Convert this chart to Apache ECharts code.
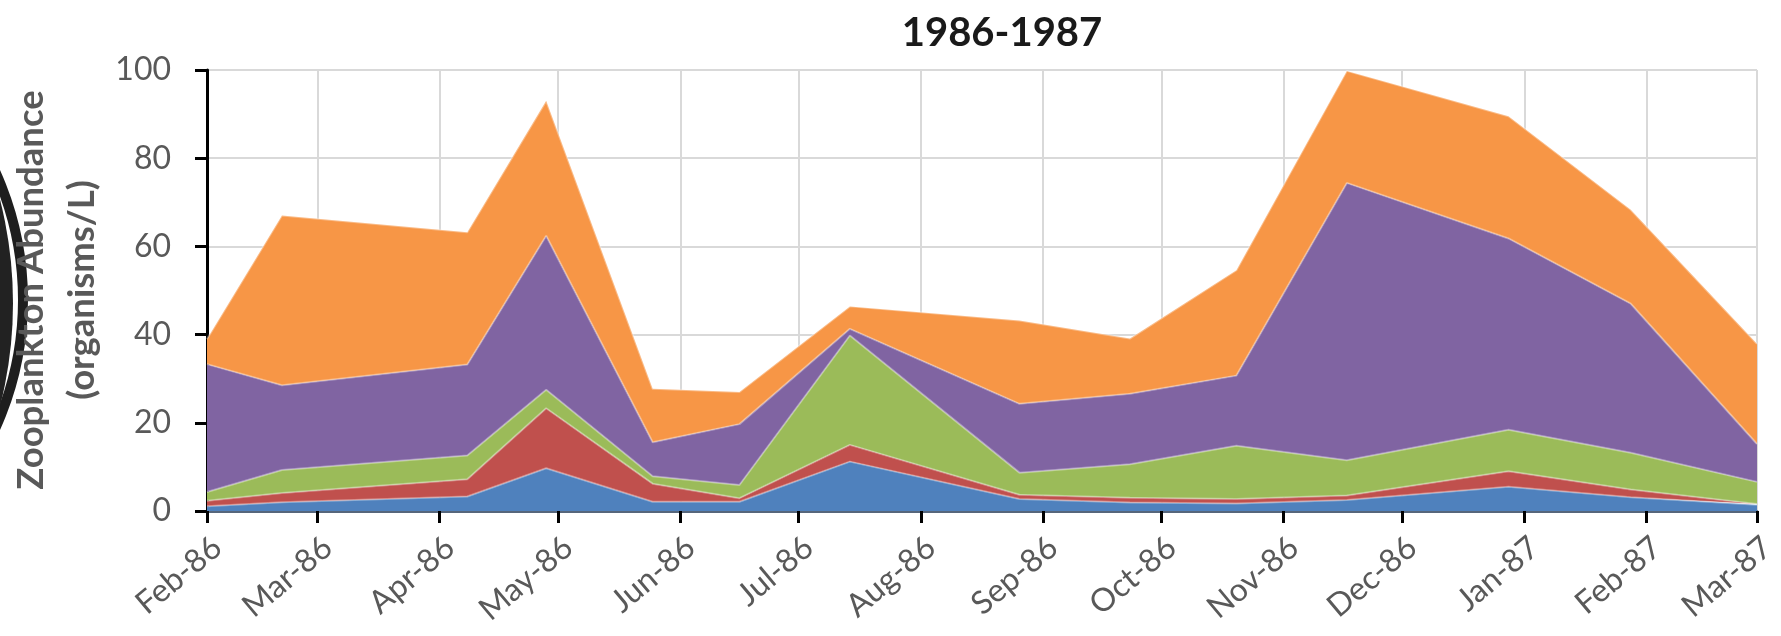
<!DOCTYPE html>
<html>
<head>
<meta charset="utf-8">
<title>Zooplankton Abundance 1986-1987</title>
<script src="https://cdn.jsdelivr.net/npm/echarts@6.0.0/dist/echarts.min.js"></script>
<style>
  html, body { margin: 0; padding: 0; background: #ffffff; }
  #chart { width: 1781px; height: 636px; }
</style>
</head>
<body>
<div id="chart"></div>
<script>
// Sampling dates for every stacked layer
const sampleDates = [
  '1986-02-01', '1986-02-20', '1986-04-08', '1986-04-28', '1986-05-25',
  '1986-06-16', '1986-07-14', '1986-08-26', '1986-09-23', '1986-10-20',
  '1986-11-17', '1986-12-28', '1987-01-28', '1987-03-01'
];

// Abundance of each group (organisms/L), stacked bottom to top
const groupBlue   = [1.1, 2.0, 3.3, 9.7, 2.1, 2.1, 11.2, 2.7, 1.9, 1.7, 2.5, 5.5, 3.1, 1.4];
const groupRed    = [1.2, 2.1, 3.9, 13.6, 4.1, 0.8, 3.8, 1.0, 1.1, 1.0, 1.0, 3.5, 1.8, 0.2];
const groupGreen  = [2.0, 5.2, 5.4, 4.2, 1.7, 3.0, 24.8, 5.0, 7.6, 12.1, 8.0, 9.4, 8.3, 5.0];
const groupPurple = [29.0, 19.2, 20.6, 34.9, 7.7, 13.8, 1.5, 15.6, 16.0, 15.9, 62.9, 43.4, 33.8, 8.6];
const groupOrange = [5.7, 38.5, 30.0, 30.6, 12.1, 7.3, 5.1, 18.9, 12.5, 23.9, 25.4, 27.7, 21.3, 22.7];

// Month ticks along the date axis
const tickDates = [
  '1986-02-01', '1986-03-01', '1986-04-01', '1986-05-01', '1986-06-01', '1986-07-01', '1986-08-01',
  '1986-09-01', '1986-10-01', '1986-11-01', '1986-12-01', '1987-01-01', '1987-02-01', '1987-03-01'
];
const tickLabels = [
  'Feb-86', 'Mar-86', 'Apr-86', 'May-86', 'Jun-86', 'Jul-86', 'Aug-86',
  'Sep-86', 'Oct-86', 'Nov-86', 'Dec-86', 'Jan-87', 'Feb-87', 'Mar-87'
];

// Y axis
const yTicks = { min: 0, max: 100, interval: 20 };

const chartTitle = '1986-1987';
const yTitle = 'Zooplankton Abundance\n(organisms/L)';

const FONT = 'Lato, "Open Sans", sans-serif';
const LABEL_GRAY = '#595959';

// local-time milliseconds, the same convention the time axis uses
function toTime(s) {
  const p = s.split('-').map(Number);
  return new Date(p[0], p[1] - 1, p[2]).getTime();
}
const tickValues = tickDates.map(toTime);
const xMin = tickValues[0];
const xMax = tickValues[tickValues.length - 1];

function layer(name, values, color) {
  return {
    name: name,
    type: 'line',
    xAxisIndex: 0,
    stack: 'total',
    symbol: 'none',
    showSymbol: false,
    smooth: false,
    lineStyle: { width: 2, color: 'rgba(255,255,255,0.35)' },
    areaStyle: { color: color, opacity: 1 },
    itemStyle: { color: color },
    emphasis: { disabled: true },
    data: sampleDates.map((d, i) => [toTime(d), values[i]])
  };
}

const chart = echarts.init(document.getElementById('chart'));
chart.setOption({
  animation: false,
  backgroundColor: '#ffffff',
  title: {
    text: chartTitle,
    left: 997,
    top: 8,
    textAlign: 'center',
    textStyle: { fontFamily: FONT, fontWeight: 'bold', fontSize: 40, color: '#1a1a1a' }
  },
  grid: { left: 207, right: 24, top: 70, bottom: 125, containLabel: false },
  xAxis: [
    {
      // date axis carrying the stacked areas
      type: 'time',
      min: xMin,
      max: xMax,
      show: false,
      splitLine: { show: false }
    },
    {
      // month ticks, labels and grid lines over the same date range
      type: 'value',
      position: 'bottom',
      min: xMin,
      max: xMax,
      axisLine: { show: true, onZero: false, lineStyle: { color: '#56667b', width: 3 } },
      axisTick: {
        show: true,
        customValues: tickValues,
        length: 12,
        lineStyle: { color: '#000000', width: 3 }
      },
      axisLabel: {
        customValues: tickValues,
        rotate: 40,
        margin: 20,
        verticalAlign: 'top',
        color: LABEL_GRAY,
        fontFamily: FONT,
        fontSize: 32,
        hideOverlap: false,
        showMinLabel: true,
        showMaxLabel: true,
        formatter: function (v) {
          const i = tickValues.indexOf(v);
          return i >= 0 ? tickLabels[i] : '';
        }
      },
      splitLine: { show: true, lineStyle: { color: '#d9d9d9', width: 2 } }
    }
  ],
  yAxis: {
    type: 'value',
    min: yTicks.min,
    max: yTicks.max,
    interval: yTicks.interval,
    axisLine: { show: true, lineStyle: { color: '#000000', width: 3 } },
    axisTick: { show: true, length: 12, lineStyle: { color: '#000000', width: 3 } },
    axisLabel: { color: LABEL_GRAY, fontFamily: FONT, fontSize: 32, margin: 36 },
    splitLine: { show: true, lineStyle: { color: '#d9d9d9', width: 2 } }
  },
  graphic: [
    // cropped round emblem at the left edge
    {
      type: 'circle', z: 100,
      shape: { cx: -288, cy: 300, r: 311 },
      style: { fill: 'none', stroke: '#1e1e1e', lineWidth: 10 }
    },
    {
      type: 'circle', z: 100,
      shape: { cx: -405, cy: 303, r: 418 },
      style: { fill: '#222222' }
    },
    // y axis title
    {
      type: 'text', z: 101,
      x: 57, y: 290,
      rotation: Math.PI / 2,
      style: {
        text: yTitle,
        align: 'center',
        verticalAlign: 'middle',
        fontFamily: FONT,
        fontWeight: 'bold',
        fontSize: 36.5,
        lineHeight: 51,
        fill: LABEL_GRAY
      }
    }
  ],
  series: [
    layer('Group 1', groupBlue, '#4F81BD'),
    layer('Group 2', groupRed, '#C0504D'),
    layer('Group 3', groupGreen, '#9BBB59'),
    layer('Group 4', groupPurple, '#8064A2'),
    layer('Group 5', groupOrange, '#F79646')
  ]
});
</script>
</body>
</html>
